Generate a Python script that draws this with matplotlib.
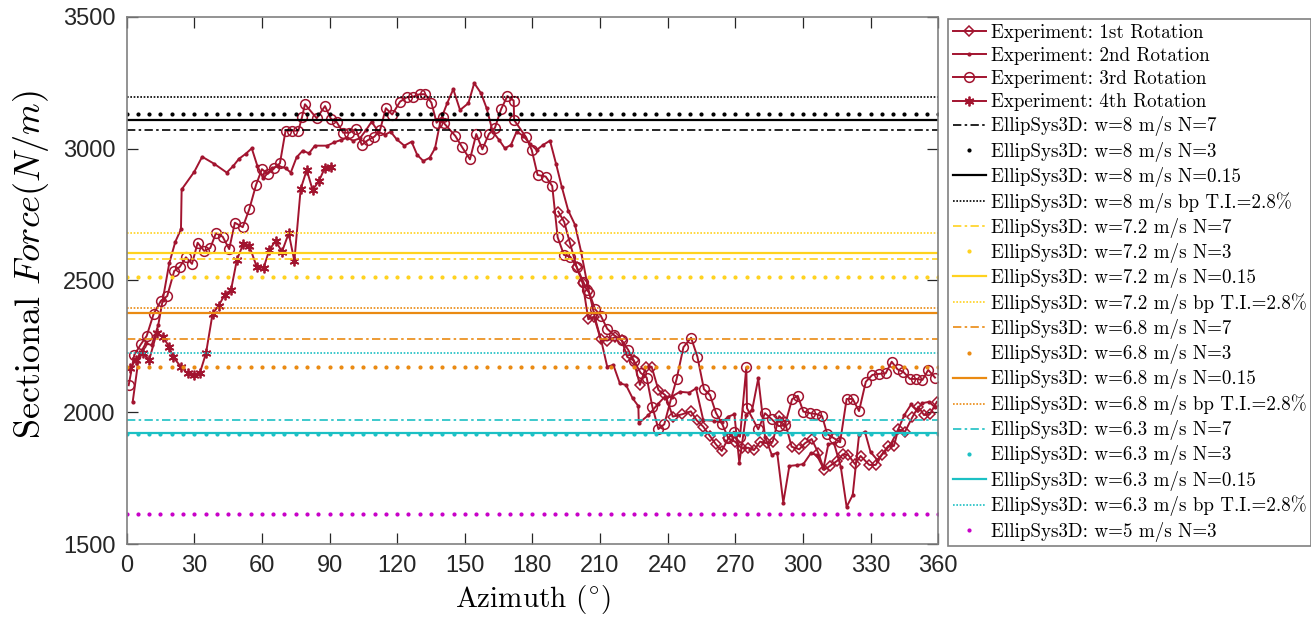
import matplotlib
matplotlib.use("Agg")
import matplotlib.pyplot as plt
import numpy as np

plt.rcParams['font.family'] = 'serif'
plt.rcParams['font.serif'] = ['cmr10', 'DejaVu Serif']
plt.rcParams['mathtext.fontset'] = 'cm'
plt.rcParams['axes.unicode_minus'] = False

# ---------------- experiment data ----------------
az1 = [191.5, 194.1, 196.7, 199.6, 202.3, 204.8, 207.3, 210.3, 213.2, 216.6,
       219.6, 222.1, 224.9, 227.7, 230.3, 232.9, 235.9, 239.0, 242.3, 246.5,
       250.3, 252.8, 255.8, 258.8, 261.4, 264.0, 266.9, 269.9, 272.8, 275.8,
       278.3, 281.0, 284.0, 286.6, 289.5, 292.0, 295.0, 298.4, 300.9, 303.9,
       306.8, 309.4, 312.0, 315.3, 317.7, 320.1, 323.1, 325.6, 329.4, 332.3,
       335.0, 337.9, 340.4, 342.3, 345.3, 348.5, 351.2, 353.7, 356.4, 359.4]
f1 = [2761, 2722, 2641, 2552, 2489, 2353, 2363, 2277, 2272, 2285,
      2274, 2210, 2197, 2104, 2171, 2173, 2085, 2065, 1984, 1993,
      2004, 1971, 1946, 1910, 1879, 1854, 1902, 1889, 1864, 1866,
      1857, 1889, 1883, 1889, 1986, 1965, 1870, 1860, 1883, 1899,
      1847, 1782, 1797, 1817, 1841, 1839, 1804, 1835, 1801, 1801,
      1839, 1873, 1873, 1936, 1927, 1981, 2022, 1990, 1994, 2040]

az2 = [2.7, 5.5, 8.5, 11.1, 14.0, 16.0, 18.9, 21.6, 24.1, 24.4,
       30.0, 33.5, 38.9, 44.4, 47.3, 49.8, 52.8, 55.5, 58.0, 60.6,
       64.3, 67.3, 70.5, 72.8, 75.4, 78.1, 80.9, 83.5, 89.0, 92.2,
       95.2, 97.8, 100.5, 103.5, 106.2, 108.7, 111.6, 114.6, 117.1, 119.8,
       123.2, 126.4, 128.9, 131.6, 134.4, 136.8, 139.3, 142.2, 144.9, 147.9,
       151.6, 154.2, 157.2, 159.7, 162.4, 165.2, 167.8, 170.5, 173.0, 176.0,
       178.9, 181.9, 184.8, 187.8, 190.5, 193.0, 195.9, 198.9, 201.6, 204.5,
       207.8, 210.6, 213.2, 215.9, 218.8, 221.5, 224.5, 227.0, 227.2, 231.5,
       235.5, 238.8, 241.8, 245.5, 249.6, 252.6, 255.8, 260.5, 264.0, 266.9,
       269.6, 271.8, 274.8, 277.5, 280.2, 283.2, 286.2, 288.6, 291.3, 294.0,
       297.2, 300.2, 303.5, 306.1, 309.1, 311.3, 313.8, 316.8, 319.4, 322.1,
       324.9, 327.5, 330.0, 333.0, 336.0, 339.0, 342.0, 345.0, 348.0, 350.5,
       353.0, 356.0, 358.5]
f2 = [2041, 2215, 2262, 2255, 2330, 2426, 2565, 2647, 2694, 2845,
      2912, 2969, 2942, 2909, 2934, 2961, 2980, 3001, 2934, 2887,
      2925, 2934, 2926, 2909, 2967, 2992, 2982, 3011, 3011, 3024,
      3033, 3041, 3030, 3039, 3070, 3102, 3064, 3052, 3064, 3035,
      3011, 3026, 2976, 2953, 2965, 3001, 3108, 3172, 3225, 3146,
      3172, 3248, 3210, 3153, 3064, 3033, 3001, 3014, 3064, 3048,
      3018, 2995, 3014, 3030, 2942, 2856, 2765, 2711, 2609, 2480,
      2357, 2270, 2173, 2180, 2110, 2104, 2053, 2024, 1959, 1990,
      2030, 2060, 2060, 2078, 2075, 2091, 1971, 1968, 1962, 1984,
      1993, 1809, 1990, 2010, 2129, 1908, 1839, 1847, 1658, 1797,
      1800, 1804, 1845, 1839, 1788, 1880, 1883, 1794, 1642, 1687,
      1914, 1927, 1850, 1820, 1850, 1880, 1930, 1990, 2030, 2010,
      2035, 2040, 2020]

az3 = [0.9, 3.4, 6.3, 8.9, 12.0, 15.2, 18.0, 21.1, 23.6, 26.3,
       29.0, 31.5, 34.4, 37.1, 39.6, 42.6, 45.5, 48.0, 51.5, 54.4,
       57.4, 60.0, 62.6, 65.3, 68.0, 70.5, 73.3, 76.2, 77.8, 79.1,
       84.3, 88.0, 90.6, 93.2, 96.1, 98.8, 101.6, 104.3, 107.2, 109.9,
       112.4, 115.0, 117.8, 121.3, 124.2, 127.2, 130.0, 132.4, 135.2, 137.5,
       140.2, 140.8, 145.8, 148.7, 152.3, 155.1, 157.8, 160.7, 163.4, 166.1,
       168.9, 171.7, 171.9, 177.2, 179.7, 182.3, 185.9, 188.8, 191.2, 194.0,
       196.8, 199.6, 202.6, 204.1, 205.2, 207.8, 210.3, 213.2, 216.2, 219.6,
       222.5, 225.1, 228.0, 230.7, 233.2, 235.9, 238.5, 241.3, 244.0, 247.0,
       250.4, 253.2, 256.1, 258.8, 261.4, 264.2, 266.9, 269.4, 272.1, 274.9,
       275.2, 280.2, 283.2, 286.2, 289.3, 292.0, 295.2, 297.7, 300.2, 303.2,
       305.8, 308.5, 310.8, 313.8, 316.5, 319.4, 322.1, 324.9, 327.9, 330.8,
       333.8, 336.7, 339.4, 342.0, 344.5, 347.5, 350.2, 353.0, 355.6, 358.6]
f3 = [2103, 2218, 2258, 2290, 2374, 2423, 2441, 2536, 2552, 2588,
      2563, 2643, 2612, 2623, 2679, 2666, 2619, 2719, 2702, 2770,
      2862, 2922, 2904, 2925, 2944, 3068, 3068, 3068, 3119, 3168,
      3115, 3161, 3113, 3100, 3060, 3060, 3074, 3014, 3033, 3045,
      3070, 3153, 3129, 3178, 3194, 3197, 3206, 3206, 3174, 3098,
      3121, 3096, 3048, 3007, 2959, 3055, 2997, 3055, 3079, 3149,
      3199, 3182, 3108, 3043, 2995, 2900, 2894, 2858, 2664, 2597,
      2590, 2552, 2495, 2464, 2454, 2391, 2367, 2317, 2293, 2274,
      2237, 2195, 2150, 2132, 2022, 1937, 1955, 2045, 2127, 2247,
      2283, 2211, 2088, 2066, 1999, 1956, 1902, 1927, 1908, 2171,
      2016, 1936, 1997, 1974, 1948, 1951, 2050, 2063, 2003, 1997,
      1994, 1986, 1918, 1902, 1887, 2051, 2051, 2005, 2116, 2142,
      2146, 2148, 2192, 2163, 2154, 2127, 2127, 2123, 2161, 2132]

az4 = [1.5, 4.1, 7.1, 10.0, 13.3, 16.0, 18.9, 20.5, 24.1, 27.0,
       30.0, 32.5, 35.2, 38.1, 40.8, 43.5, 46.3, 48.9, 51.7, 54.4,
       57.8, 60.8, 63.3, 66.1, 68.9, 71.9, 74.4, 77.2, 79.9, 82.5,
       85.3, 88.0, 90.5]
f4 = [2167, 2199, 2224, 2199, 2300, 2287, 2249, 2211, 2173, 2148,
      2142, 2150, 2224, 2373, 2405, 2445, 2464, 2578, 2638, 2631,
      2550, 2549, 2616, 2650, 2609, 2679, 2574, 2847, 2919, 2843,
      2877, 2928, 2929]

# ---------------- EllipSys3D constant levels ----------------
sim_labels = ['EllipSys3D: w=8 m/s N=7', 'EllipSys3D: w=8 m/s N=3',
              'EllipSys3D: w=8 m/s N=0.15', 'EllipSys3D: w=8 m/s bp T.I.=2.8%',
              'EllipSys3D: w=7.2 m/s N=7', 'EllipSys3D: w=7.2 m/s N=3',
              'EllipSys3D: w=7.2 m/s N=0.15', 'EllipSys3D: w=7.2 m/s bp T.I.=2.8%',
              'EllipSys3D: w=6.8 m/s N=7', 'EllipSys3D: w=6.8 m/s N=3',
              'EllipSys3D: w=6.8 m/s N=0.15', 'EllipSys3D: w=6.8 m/s bp T.I.=2.8%',
              'EllipSys3D: w=6.3 m/s N=7', 'EllipSys3D: w=6.3 m/s N=3',
              'EllipSys3D: w=6.3 m/s N=0.15', 'EllipSys3D: w=6.3 m/s bp T.I.=2.8%',
              'EllipSys3D: w=5 m/s N=3']
sim_values = [3070, 3130, 3110, 3197,
              2580, 2512, 2604, 2681,
              2278, 2172, 2378, 2397,
              1970, 1917, 1921, 2226,
              1615]
sim_kinds = ['dashdot', 'dots', 'solid', 'dotted'] * 4 + ['dots']
sim_colors = ['black'] * 4 + ['#FFD21F'] * 4 + ['#EA8A12'] * 4 + ['#1CC0C4'] * 4 + ['#C800C8']

red = '#A2142F'
az_dots = np.arange(0, 361, 5)

fig = plt.figure(figsize=(13.11, 6.17), dpi=100)
ax = fig.add_axes([0.0966, 0.1178, 0.619, 0.8552])

ax.plot(az1, f1, '-', color=red, lw=1.4, marker='D', ms=5, mfc='none', mew=1.1,
        label='Experiment: 1st Rotation')
ax.plot(az2, f2, '-', color=red, lw=1.4, marker='.', ms=4,
        label='Experiment: 2nd Rotation')
ax.plot(az3, f3, '-', color=red, lw=1.4, marker='o', ms=7, mfc='none', mew=1.1,
        label='Experiment: 3rd Rotation')
ax.plot(az4, f4, '-', color=red, lw=1.4, marker=(6, 2, 0), ms=7, mew=1.3,
        label='Experiment: 4th Rotation')

for lab, v, kind, c in zip(sim_labels, sim_values, sim_kinds, sim_colors):
    if kind == 'dots':
        ax.plot(az_dots, [v] * len(az_dots), ls='none', marker='.', ms=4,
                color=c, label=lab)
    elif kind == 'solid':
        ax.plot([0, 360], [v, v], '-', color=c, lw=1.6, label=lab)
    elif kind == 'dashdot':
        ax.plot([0, 360], [v, v], color=c, lw=1.2, dashes=(5, 2, 1.5, 2), label=lab)
    else:
        ax.plot([0, 360], [v, v], color=c, lw=1.2, dashes=(1, 1), label=lab)

ax.set_xlim(0, 360)
ax.set_ylim(1500, 3500)
ax.set_xticks(np.arange(0, 361, 30))
ax.set_yticks(np.arange(1500, 3501, 500))
ax.tick_params(direction='in', top=True, right=True, length=8, width=0.9,
               labelsize=17, pad=8, colors='#262626')
for t in ax.get_xticklabels() + ax.get_yticklabels():
    t.set_fontfamily('Liberation Sans')
for s in ax.spines.values():
    s.set_color('#808080')
    s.set_linewidth(1.2)

ax.set_xlabel(r'Azimuth ($^{\circ}$)', fontsize=21, labelpad=4)
ax.set_ylabel(r'Sectional $Force (N/m)$', fontsize=26)
ax.yaxis.set_label_coords(-0.093, 0.53)

leg = ax.legend(loc='upper left', bbox_to_anchor=(0.7231, 0.969),
                bbox_transform=fig.transFigure, fontsize=13.7, frameon=True,
                fancybox=False, edgecolor='#808080', framealpha=1,
                borderaxespad=0, borderpad=0.25, labelspacing=0.27,
                handlelength=1.75, handletextpad=0.25)
leg.get_frame().set_linewidth(1.2)

fig.savefig('out.png', dpi=100)
